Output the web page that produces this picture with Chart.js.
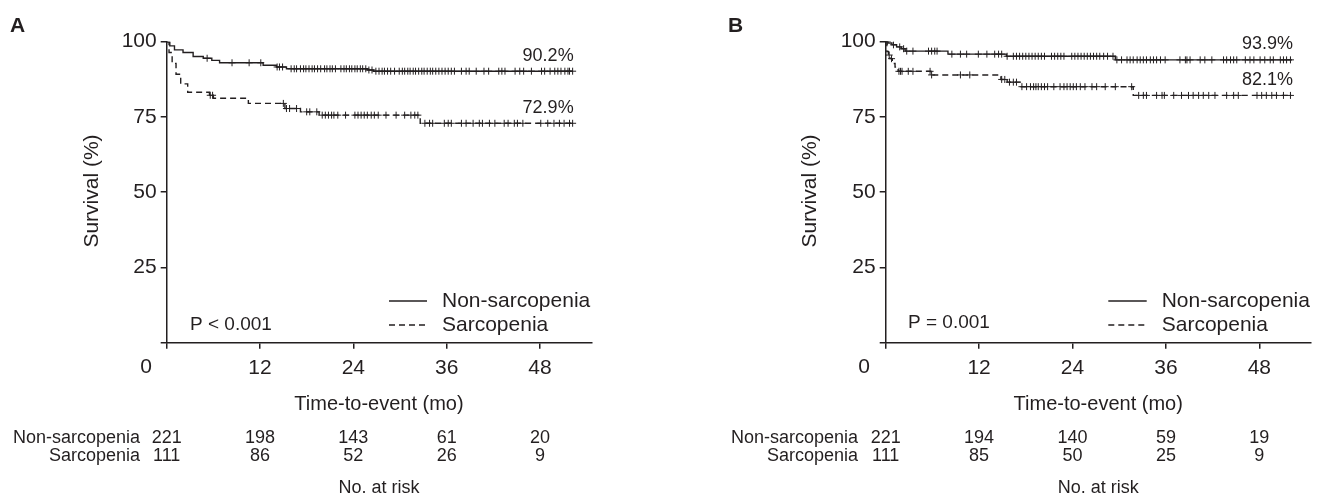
<!DOCTYPE html>
<html><head><meta charset="utf-8">
<script src="https://cdn.jsdelivr.net/npm/chart.js@4.4.1/dist/chart.umd.min.js"></script>
<style>
html,body{margin:0;padding:0;background:#fff;}
#wrap{position:relative;width:1321px;height:496px;overflow:hidden;background:#fff;}
canvas{position:absolute;top:0;}
#ca{left:0;}
#cb{left:660px;}
</style></head><body>
<div id="wrap"><canvas id="ca" width="660" height="496"></canvas><canvas id="cb" width="661" height="496"></canvas></div>
<script>
// ---------------- DATA ----------------
const xTicks = [0, 12, 24, 36, 48];
const yTicks = [0, 25, 50, 75, 100];
const seriesNames = ['Non-sarcopenia', 'Sarcopenia'];

// Panel A: step times (months) and survival (%)
const timeA_non = [0, 0.4, 1.0, 2.1, 3.4, 4.7, 5.8, 6.8, 12.4, 14.1, 15.4, 25.8, 26.6, 52.2];
const survA_non = [100, 98.6, 97.3, 96.4, 95.1, 94.5, 93.8, 93.0, 92.2, 91.6, 91.0, 90.6, 90.2, 90.2];
const timeA_sar = [0, 0.3, 0.7, 1.2, 1.8, 2.7, 5.5, 6.0, 10.5, 15.2, 17.2, 19.6, 32.6, 52.2];
const survA_sar = [100, 96.4, 92.8, 89.2, 86.0, 83.2, 82.2, 81.2, 79.5, 77.8, 76.7, 75.6, 72.9, 72.9];
const censorA_non = [5.2, 8.4, 10.6, 12.1, 14.2, 14.5, 14.9, 16.0, 16.4, 16.7, 17.2, 17.6, 17.9, 18.3, 18.7, 19.0, 19.4, 19.8, 20.3, 20.6, 21.0, 21.3, 21.7, 22.4, 22.8, 23.1, 23.5, 23.8, 24.2, 24.5, 24.9, 25.2, 25.6, 26.0, 26.4, 26.9, 27.3, 27.7, 28.0, 28.4, 28.8, 29.3, 29.9, 30.3, 30.6, 31.0, 31.3, 31.7, 32.0, 32.4, 32.8, 33.1, 33.5, 33.9, 34.2, 34.6, 35.0, 35.4, 35.8, 36.2, 36.6, 37.0, 37.9, 38.5, 38.9, 39.8, 40.8, 41.4, 42.7, 43.1, 43.5, 44.8, 45.4, 45.9, 46.9, 48.2, 48.6, 49.3, 49.9, 50.3, 50.7, 51.2, 51.6, 51.8, 52.2];
const censorA_sar = [5.6, 5.9, 15.0, 15.4, 15.8, 16.7, 18.0, 18.4, 19.3, 20.0, 20.4, 20.8, 21.2, 21.5, 22.0, 23.0, 24.2, 24.6, 25.0, 25.4, 25.8, 26.3, 26.7, 27.2, 28.2, 29.5, 30.6, 31.4, 31.9, 32.3, 33.2, 33.8, 34.2, 35.7, 36.2, 36.6, 37.9, 38.5, 39.4, 40.2, 40.6, 41.5, 42.2, 43.4, 43.9, 44.7, 45.1, 45.8, 48.1, 49.0, 49.8, 50.5, 51.1, 51.8, 52.2];

// Panel B
const timeB_non = [0, 0.3, 0.8, 1.4, 2.0, 2.5, 8.0, 15.5, 29.5, 52.2];
const survB_non = [100, 99.5, 98.9, 98.2, 97.6, 96.8, 95.8, 95.1, 93.9, 93.9];
const timeB_sar = [0, 0.15, 0.35, 0.55, 0.85, 1.2, 1.6, 5.8, 14.8, 15.6, 17.3, 31.8, 52.2];
const survB_sar = [100, 96.7, 95.5, 94.3, 92.7, 91.5, 90.1, 88.9, 87.4, 86.5, 85.0, 82.1, 82.1];
const censorB_non = [0.2, 1.0, 1.8, 2.3, 2.7, 3.5, 5.5, 5.9, 6.3, 6.6, 8.5, 9.6, 10.4, 11.9, 13.0, 14.0, 14.5, 14.9, 15.6, 16.4, 16.8, 17.2, 17.6, 18.0, 18.4, 18.8, 19.2, 19.6, 20.0, 20.4, 21.3, 21.7, 22.1, 22.5, 22.9, 23.9, 24.3, 24.7, 25.1, 25.5, 25.9, 26.3, 26.7, 27.1, 27.5, 28.0, 28.5, 29.2, 29.7, 30.3, 31.0, 31.4, 31.8, 32.3, 32.7, 33.1, 33.5, 34.0, 34.4, 34.8, 35.3, 35.9, 37.8, 38.5, 38.7, 39.1, 40.4, 41.0, 41.9, 43.4, 43.8, 44.3, 44.7, 45.1, 46.2, 46.8, 47.3, 48.1, 48.7, 49.4, 49.8, 50.7, 51.1, 51.5, 52.0];
const censorB_sar = [0.45, 0.75, 1.7, 1.9, 2.1, 2.9, 3.5, 5.7, 5.9, 9.6, 10.8, 14.9, 15.3, 15.9, 16.4, 16.8, 17.5, 18.1, 18.6, 19.0, 19.3, 19.6, 20.0, 20.4, 20.8, 21.6, 22.4, 22.9, 23.3, 23.7, 24.1, 24.5, 25.0, 25.6, 26.5, 27.1, 28.2, 29.5, 31.6, 32.5, 33.1, 33.5, 34.8, 35.5, 35.8, 37.0, 38.0, 38.9, 39.5, 40.2, 40.8, 41.5, 42.3, 43.8, 44.7, 45.3, 47.7, 48.3, 48.9, 49.6, 50.2, 51.1, 52.0];

// Risk table (numbers at risk at each x tick)
const riskA_non = [221, 198, 143, 61, 20];
const riskA_sar = [111, 86, 52, 26, 9];
const riskB_non = [221, 194, 140, 59, 19];
const riskB_sar = [111, 85, 50, 25, 9];
const finalA = ['90.2%', '72.9%'];
const finalB = ['93.9%', '82.1%'];
const pA = 'P < 0.001';
const pB = 'P = 0.001';

// ---------------- DRAWING ----------------
const INK = '#231f20';
const FONT = '"Liberation Sans", Arial, Helvetica, sans-serif';
Chart.defaults.font.family = FONT;
Chart.defaults.color = INK;

function survAt(times, surv, t) {
  let s = surv[0];
  for (let i = 0; i < times.length; i++) if (times[i] <= t) s = surv[i];
  return s;
}
function pts(times, surv) { return times.map((t, i) => ({x: t, y: surv[i]})); }
function cens(ct, times, surv) { return ct.map(t => ({x: t, y: survAt(times, surv, t)})); }

function makeChart(id, d, L) {
  const ds = [
    {data: pts(d.tn, d.sn), stepped: true, borderColor: INK, borderWidth: 1.4, pointRadius: 0, fill: false},
    {data: pts(d.ts, d.ss), stepped: true, borderColor: INK, borderWidth: 1.4, borderDash: [6, 4], pointRadius: 0, fill: false},
    {data: cens(d.cn, d.tn, d.sn), showLine: false, pointStyle: 'cross', pointRadius: 3.5, pointBorderWidth: 1, borderColor: INK, backgroundColor: INK},
    {data: cens(d.cs, d.ts, d.ss), showLine: false, pointStyle: 'cross', pointRadius: 3.5, pointBorderWidth: 1, borderColor: INK, backgroundColor: INK}
  ];
  const textPlugin = {
    id: 'txt' + id,
    afterDraw(chart) {
      const ctx = chart.ctx, xs = chart.scales.x, ys = chart.scales.y;
      const midX = (chart.chartArea.left + chart.chartArea.right) / 2;
      ctx.save();
      ctx.fillStyle = INK; ctx.strokeStyle = INK;
      // panel letter
      ctx.font = 'bold 21px ' + FONT; ctx.textAlign = 'left'; ctx.textBaseline = 'middle';
      ctx.fillText(d.letter, L.letterX, 26);
      // origin 0
      ctx.font = '21px ' + FONT; ctx.textAlign = 'center';
      ctx.fillText('0', L.zeroX, 367);
      // y title
      ctx.save(); ctx.translate(L.yTitleX, 191); ctx.rotate(-Math.PI / 2);
      ctx.font = '21px ' + FONT; ctx.textAlign = 'center'; ctx.textBaseline = 'middle';
      ctx.fillText('Survival (%)', 0, 0); ctx.restore();
      // x title
      ctx.font = '20px ' + FONT; ctx.textAlign = 'center'; ctx.textBaseline = 'middle';
      ctx.fillText('Time-to-event (mo)', midX, 404);
      // final percentages
      ctx.font = '18px ' + FONT; ctx.textAlign = 'right';
      const xe = xs.getPixelForValue(d.tn[d.tn.length - 1]) + 1;
      ctx.fillText(d.fin[0], xe, ys.getPixelForValue(d.sn[d.sn.length - 1]) - 15.5);
      ctx.fillText(d.fin[1], xe, ys.getPixelForValue(d.ss[d.ss.length - 1]) - 15.5);
      // legend
      ctx.lineWidth = 1.4;
      ctx.beginPath(); ctx.moveTo(L.legX0, 301); ctx.lineTo(L.legX1, 301); ctx.stroke();
      ctx.setLineDash([6, 4]);
      ctx.beginPath(); ctx.moveTo(L.legX0, 325); ctx.lineTo(L.legX1, 325); ctx.stroke();
      ctx.setLineDash([]);
      ctx.font = '21px ' + FONT; ctx.textAlign = 'left';
      ctx.fillText(seriesNames[0], L.legTextX, 301);
      ctx.fillText(seriesNames[1], L.legTextX, 325);
      // p value
      ctx.font = '19px ' + FONT;
      ctx.fillText(d.p, L.pX, L.pY);
      // risk table
      ctx.font = '18px ' + FONT; ctx.textAlign = 'right';
      ctx.fillText(seriesNames[0], L.rowLabelX, 438);
      ctx.fillText(seriesNames[1], L.rowLabelX, 456);
      ctx.textAlign = 'center';
      for (let i = 0; i < d.rn.length; i++) {
        const cx = xs.getPixelForValue(xTicks[i]);
        ctx.fillText(String(d.rn[i]), cx, 438);
        ctx.fillText(String(d.rs[i]), cx, 456);
      }
      ctx.fillText('No. at risk', midX, 488);
      ctx.restore();
    }
  };
  const tickFont = {size: 21, family: FONT};
  return new Chart(document.getElementById(id), {
    type: 'line',
    data: {datasets: ds},
    options: {
      responsive: false, animation: false, events: [],
      layout: {padding: {left: 0, top: L.top, right: L.right, bottom: 0}},
      plugins: {legend: {display: false}, tooltip: {enabled: false}},
      scales: {
        x: {
          type: 'linear', min: 0, max: 54.6,
          afterBuildTicks: s => { s.ticks = xTicks.map(v => ({value: v})); },
          afterFit: s => { s.height = 153.3; },
          ticks: {callback: v => (v === 0 ? '' : String(v)), font: tickFont, color: INK, padding: 7, maxRotation: 0, autoSkip: false},
          grid: {drawOnChartArea: false, drawTicks: true, tickLength: 6, color: INK, lineWidth: 1.5},
          border: {display: true, color: INK, width: 1.5}
        },
        y: {
          type: 'linear', min: 0, max: 100,
          afterBuildTicks: s => { s.ticks = yTicks.map(v => ({value: v})); },
          afterFit: s => { s.width = L.yWidth; },
          ticks: {callback: v => (v === 0 ? '' : String(v)), font: tickFont, color: INK, padding: 4, autoSkip: false},
          grid: {drawOnChartArea: false, drawTicks: true, tickLength: 6, color: INK, lineWidth: 1.5},
          border: {display: true, color: INK, width: 1.5}
        }
      }
    },
    plugins: [textPlugin]
  });
}

makeChart('ca',
  {letter: 'A', tn: timeA_non, sn: survA_non, ts: timeA_sar, ss: survA_sar, cn: censorA_non, cs: censorA_sar, rn: riskA_non, rs: riskA_sar, fin: finalA, p: pA},
  {top: 41.7, right: 68.7, yWidth: 166.7, letterX: 10, zeroX: 146, yTitleX: 92, legX0: 389, legX1: 427, legTextX: 442, pX: 190, pY: 325, rowLabelX: 140});
makeChart('cb',
  {letter: 'B', tn: timeB_non, sn: survB_non, ts: timeB_sar, ss: survB_sar, cn: censorB_non, cs: censorB_sar, rn: riskB_non, rs: riskB_sar, fin: finalB, p: pB},
  {top: 41.5, right: 10.3, yWidth: 225.7, letterX: 68, zeroX: 204, yTitleX: 150, legX0: 448.3, legX1: 486.7, legTextX: 501.7, pX: 248, pY: 323, rowLabelX: 198});
</script>
</body></html>
